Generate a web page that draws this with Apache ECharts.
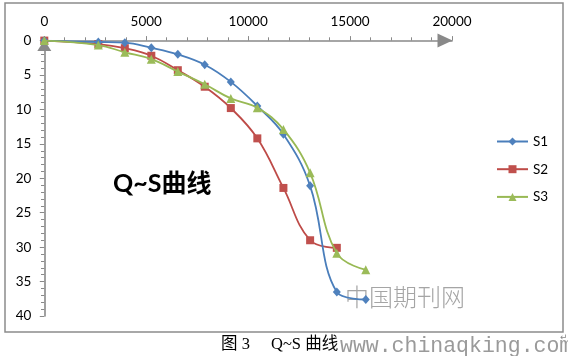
<!DOCTYPE html>
<html>
<head>
<meta charset="utf-8">
<script src="https://cdn.jsdelivr.net/npm/echarts@6/dist/echarts.min.js"></script>
<style>
html,body{margin:0;padding:0;background:#fff;}
#chart{width:568px;height:356px;}
</style>
</head>
<body>
<div id="chart"></div>
<script>
// Load Q (x) and settlement S (y)
const loadsS1 = [0, 2650, 3950, 5250, 6550, 7870, 9150, 10450, 11730, 13040, 14350, 15770];
const settleS1 = [0, 0.2, 0.3, 1.05, 2.0, 3.5, 6.0, 9.5, 13.6, 21.1, 36.5, 37.6];
const loadsS2 = [0, 2650, 3950, 5250, 6550, 7870, 9150, 10450, 11730, 13040, 14350];
const settleS2 = [0, 0.5, 1.1, 2.2, 4.3, 6.7, 9.8, 14.2, 21.4, 29.0, 30.1];
const loadsS3 = [0, 2650, 3950, 5250, 6550, 7870, 9150, 10450, 11730, 13040, 14350, 15770];
const settleS3 = [0, 0.65, 1.7, 2.7, 4.5, 6.35, 8.4, 9.75, 12.9, 19.2, 30.9, 33.3];
const seriesNames = ['S1', 'S2', 'S3'];
const xTicks = [0, 5000, 10000, 15000, 20000];
const yTicks = [0, 5, 10, 15, 20, 25, 30, 35, 40];
const chartTitle = 'Q~S曲线';
const captionA = '图 3';
const captionB = 'Q~S 曲线';
const watermark1 = '中国期刊网';
const watermark2 = 'www.chinaqking.com';

function pairs(xs, ys) { return xs.map((x, i) => [x, ys[i]]); }

const axisGrey = '#898989';
const latin = 'Lato, "Noto Sans CJK SC", sans-serif';

const chart = echarts.init(document.getElementById('chart'), null, {renderer: 'canvas'});
chart.setOption({
  animation: false,
  backgroundColor: '#fff',
  grid: {left: 44.3, right: 116, top: 40.6, bottom: 40, containLabel: false, outerBoundsMode: 'none'},
  xAxis: {
    type: 'value', position: 'top',
    min: xTicks[0], max: xTicks[xTicks.length - 1], interval: 5000,
    axisLine: {show: true, onZero: false, lineStyle: {color: axisGrey, width: 1.6},
      symbol: ['none', 'triangle'], symbolSize: [14, 15], symbolOffset: [0, -7]},
    axisTick: {show: true, length: 4.5, lineStyle: {color: axisGrey, width: 1}},
    minorTick: {show: true, splitNumber: 5, length: 3.3, lineStyle: {color: axisGrey, width: 1}},
    splitLine: {show: false},
    axisLabel: {margin: 12, color: '#000', fontSize: 13.5, fontFamily: latin,
      showMaxLabel: true, showMinLabel: true, formatter: v => String(v)}
  },
  yAxis: {
    type: 'value', inverse: true,
    min: yTicks[0], max: yTicks[yTicks.length - 1], interval: 5,
    axisLine: {show: true, onZero: false, lineStyle: {color: axisGrey, width: 1.6},
      symbol: ['none', 'triangle'], symbolSize: [14, 11], symbolOffset: [0, -5]},
    axisTick: {show: true, length: 4.5, lineStyle: {color: axisGrey, width: 1}},
    minorTick: {show: true, splitNumber: 5, length: 3.3, lineStyle: {color: axisGrey, width: 1}},
    splitLine: {show: false},
    axisLabel: {margin: 13, color: '#000', fontSize: 13.5, fontFamily: latin,
      showMaxLabel: true, showMinLabel: true, formatter: v => String(v)}
  },
  legend: {
    orient: 'vertical', left: 491, top: 129.5,
    itemWidth: 31, itemHeight: 10, itemGap: 13.7,
    textStyle: {fontSize: 13.5, fontFamily: latin, color: '#000', lineHeight: 14},
    data: seriesNames
  },
  series: [
    {name: seriesNames[0], type: 'line', data: pairs(loadsS1, settleS1), smooth: 0.4,
      symbol: 'diamond', symbolSize: [8, 9],
      lineStyle: {color: '#4A7EBB', width: 1.8}, itemStyle: {color: '#4F81BD'}, z: 4},
    {name: seriesNames[1], type: 'line', data: pairs(loadsS2, settleS2), smooth: 0.4,
      symbol: 'rect', symbolSize: 8,
      lineStyle: {color: '#BE4B48', width: 1.8}, itemStyle: {color: '#C0504D'}, z: 3},
    {name: seriesNames[2], type: 'line', data: pairs(loadsS3, settleS3), smooth: 0.4,
      symbol: 'triangle', symbolSize: 9,
      lineStyle: {color: '#98B954', width: 1.8}, itemStyle: {color: '#9BBB59'}, z: 5}
  ],
  graphic: [
    {type: 'rect', shape: {x: 5, y: 3, width: 558, height: 329},
      style: {fill: 'none', stroke: '#8c8c8c', lineWidth: 1.5}, silent: true, z: -1},
    {type: 'text', left: 113, top: 171.5,
      style: {text: chartTitle, font: 'bold 25px Lato, "Noto Sans CJK SC", sans-serif', fill: '#000'}},
    {type: 'text', left: 345, top: 285,
      style: {text: watermark1, font: '300 24px "Noto Sans CJK SC", serif', fill: '#a5a5a5'}},
    {type: 'text', left: 221, top: 336,
      style: {text: captionA, font: '16.5px "Liberation Serif", "Noto Sans CJK SC", serif', fill: '#000'}},
    {type: 'text', left: 271, top: 336,
      style: {text: captionB, font: '16.5px "Liberation Serif", "Noto Sans CJK SC", serif', fill: '#000'}},
    {type: 'text', left: 340, top: 335,
      style: {text: watermark2, font: '21.5px "Liberation Mono", "DejaVu Sans Mono", monospace', fill: '#9a9a9a'}},
    {type: 'text', left: 560, top: 333,
      style: {text: '↵', font: '9px "DejaVu Sans", sans-serif', fill: '#888'}}
  ]
});
</script>
</body>
</html>
